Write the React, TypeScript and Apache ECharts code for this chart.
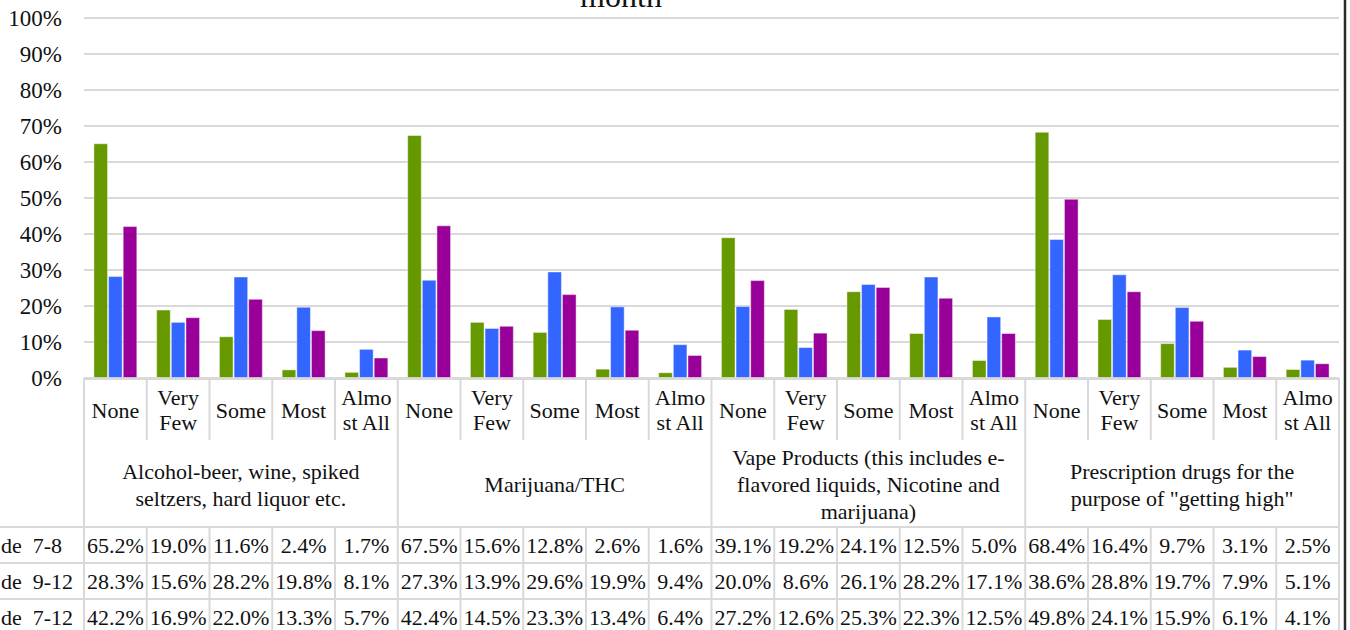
import React, { useEffect, useRef } from "react";
import * as echarts from "echarts";

const subCategories = ["None", "Very\nFew", "Some", "Most", "Almo\nst All"];
const groups = [
  "Alcohol-beer, wine, spiked\nseltzers, hard liquor etc.",
  "Marijuana/THC",
  "Vape Products (this includes e-\nflavored liquids, Nicotine and\nmarijuana)",
  "Prescription drugs for the\npurpose of \"getting high\"",
];
// row labels as visible in the (left-cropped) reference: "Grade 7-8" etc.
const seriesNames = ["Grade  7-8", "Grade  9-12", "Grade  7-12"];
const rowLabelsVisible = ["de  7-8", "de  9-12", "de  7-12"];
const grade78 = [65.2, 19.0, 11.6, 2.4, 1.7, 67.5, 15.6, 12.8, 2.6, 1.6, 39.1, 19.2, 24.1, 12.5, 5.0, 68.4, 16.4, 9.7, 3.1, 2.5];
const grade912 = [28.3, 15.6, 28.2, 19.8, 8.1, 27.3, 13.9, 29.6, 19.9, 9.4, 20.0, 8.6, 26.1, 28.2, 17.1, 38.6, 28.8, 19.7, 7.9, 5.1];
const grade712 = [42.2, 16.9, 22.0, 13.3, 5.7, 42.4, 14.5, 23.3, 13.4, 6.4, 27.2, 12.6, 25.3, 22.3, 12.5, 49.8, 24.1, 15.9, 6.1, 4.1];
const colors = ["#669900", "#3366FF", "#990099"];
const titleText = "month";

const FONT = "'Liberation Serif', 'DejaVu Serif', serif";
const TEXT_COLOR = "#111";
const LINE_COLOR = "#d9d9d9";

export default function App() {
  const ref = useRef<HTMLDivElement>(null);
  useEffect(() => {
    if (!ref.current) return;
    const chart = echarts.init(ref.current, undefined, { renderer: "svg" });
    const W = 1350, H = 630;
    const PL = 84, PR = 1339, AXIS_Y = 378, TOP = 18;
    const categories: string[] = [];
    groups.forEach(() => subCategories.forEach((s) => categories.push(s)));
    const n = categories.length;
    const cw = (PR - PL) / n;
    const HDR1 = 440, HDR2 = 527, ROWH = 36;
    const data = [grade78, grade912, grade712];

    const graphics: any[] = [];
    const ln = (x1: number, y1: number, x2: number, y2: number) =>
      graphics.push({
        type: "line",
        silent: true,
        shape: { x1, y1, x2, y2 },
        style: { stroke: LINE_COLOR, lineWidth: 2 },
      });
    // table lines
    ln(PL, AXIS_Y + 1, PR, AXIS_Y + 1);
    for (let r = 0; r < 3; r++) ln(0, HDR2 + r * ROWH, PR, HDR2 + r * ROWH);
    ln(PL, AXIS_Y, PL, H + 5);
    ln(PR, AXIS_Y, PR, H + 5);
    for (let i = 1; i < n; i++) {
      const x = PL + i * cw;
      if (i % subCategories.length === 0) ln(x, AXIS_Y, x, H + 5);
      else {
        ln(x, AXIS_Y, x, HDR1);
        ln(x, HDR2, x, H + 5);
      }
    }
    // sub category labels
    categories.forEach((c, i) => {
      graphics.push({
        type: "text",
        silent: true,
        x: PL + (i + 0.5) * cw,
        y: (AXIS_Y + HDR1) / 2 + 1,
        style: {
          text: c,
          fill: TEXT_COLOR,
          font: `22px ${FONT}`,
          lineHeight: 25,
          align: "center",
          verticalAlign: "middle",
        },
      });
    });
    // group labels
    groups.forEach((g, gi) => {
      graphics.push({
        type: "text",
        silent: true,
        x: PL + (gi + 0.5) * subCategories.length * cw,
        y: (HDR1 + HDR2) / 2 + 1,
        style: {
          text: g,
          fill: TEXT_COLOR,
          font: `22px ${FONT}`,
          lineHeight: 27,
          align: "center",
          verticalAlign: "middle",
        },
      });
    });
    // data rows
    data.forEach((row, r) => {
      const yc = HDR2 + r * ROWH + ROWH / 2;
      graphics.push({
        type: "text",
        silent: true,
        x: 1,
        y: yc,
        style: {
          text: rowLabelsVisible[r],
          fill: TEXT_COLOR,
          font: `22px ${FONT}`,
          align: "left",
          verticalAlign: "middle",
        },
      });
      row.forEach((v, i) => {
        graphics.push({
          type: "text",
          silent: true,
          x: PL + (i + 0.5) * cw,
          y: yc,
          style: {
            text: v.toFixed(1) + "%",
            fill: TEXT_COLOR,
            font: `22px ${FONT}`,
            align: "center",
            verticalAlign: "middle",
          },
        });
      });
    });
    // title (cropped at the top in the reference)
    graphics.push({
      type: "text",
      silent: true,
      x: 621,
      y: 12,
      style: {
        text: titleText,
        fill: TEXT_COLOR,
        font: `32px ${FONT}`,
        align: "center",
        verticalAlign: "bottom",
      },
    });
    // chart border on right
    graphics.push({
      type: "line",
      silent: true,
      shape: { x1: 1345, y1: 0, x2: 1345, y2: H },
      style: { stroke: "#2b2b2b", lineWidth: 2.5 },
    });

    chart.setOption({
      animation: false,
      backgroundColor: "#ffffff",
      grid: {
        left: PL,
        right: W - PR,
        top: TOP,
        bottom: H - AXIS_Y,
        containLabel: false,
        outerBoundsMode: "none",
      },
      xAxis: {
        type: "category",
        data: categories,
        axisLabel: { show: false },
        axisTick: { show: false },
        axisLine: { show: false },
      },
      yAxis: {
        type: "value",
        min: 0,
        max: 100,
        interval: 10,
        axisLabel: {
          formatter: (v: number) => `${Math.round(v)}%`,
          color: TEXT_COLOR,
          fontFamily: FONT,
          fontSize: 23,
          margin: 22,
        },
        axisLine: { show: false },
        axisTick: { show: false },
        splitLine: { lineStyle: { color: LINE_COLOR, width: 2 } },
      },
      series: data.map((d, si) => ({
        name: seriesNames[si],
        type: "bar",
        data: d,
        barGap: "0%",
        barCategoryGap: "30%",
        itemStyle: {
          color: colors[si],
          borderColor: "rgba(255,255,255,0.45)",
          borderWidth: 1,
        },
      })),
      graphic: graphics,
    });
    return () => chart.dispose();
  }, []);
  return (
    <div
      ref={ref}
      style={{ position: "fixed", left: 0, top: 0, width: 1350, height: 630, background: "#fff" }}
    />
  );
}
